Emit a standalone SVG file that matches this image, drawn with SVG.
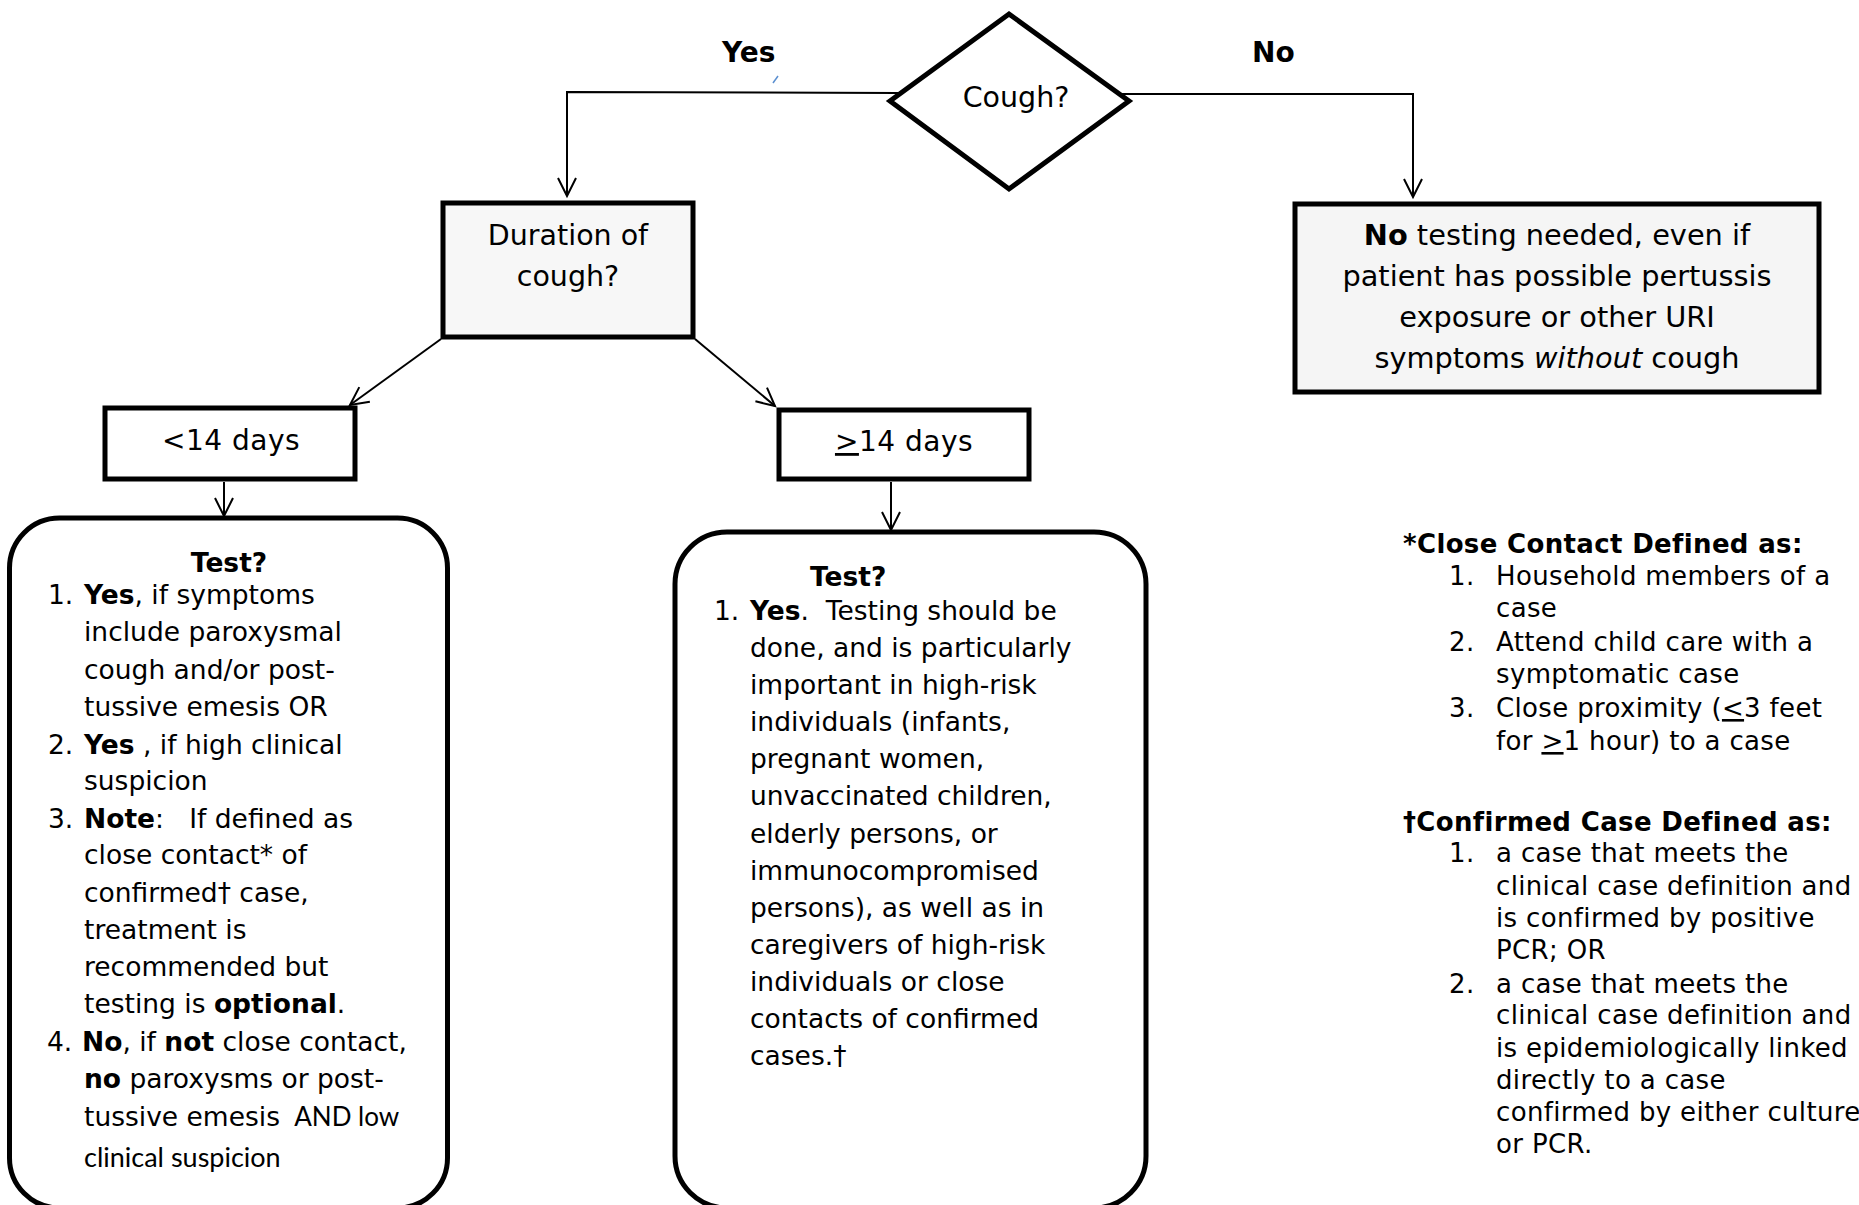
<svg xmlns="http://www.w3.org/2000/svg" width="1859" height="1205" viewBox="0 0 1859 1205">
<defs>
<marker id="ah" markerUnits="userSpaceOnUse" markerWidth="26" markerHeight="26" viewBox="-22 -13 26 26" refX="0" refY="0" orient="auto">
<path d="M-18,-9 L0,0 L-18,9" fill="none" stroke="#000" stroke-width="2"/>
</marker>
<style>
text{white-space:pre}
.t{font-family:"DejaVu Sans",Verdana,sans-serif;font-size:26.5px;fill:#000}
.r{font-family:"DejaVu Sans",Verdana,sans-serif;font-size:26px;letter-spacing:0.35px;fill:#000}
.h{font-family:"DejaVu Sans",Verdana,sans-serif;font-size:28px;fill:#000}
.w{font-size:28.8px}
.b{font-weight:bold}
.c{font-family:Lato,"Open Sans",sans-serif;font-size:27px}
.n{fill:#fff;stroke:#000;stroke-width:5}
.e{fill:none;stroke:#000;stroke-width:2}
</style>
</defs>
<rect width="1859" height="1205" fill="#fff"/>

<g id="connectors" class="e">
<path d="M898,93 L567,92 L567,196" marker-end="url(#ah)"/>
<path d="M1121,94 L1413,94 L1413,197" marker-end="url(#ah)"/>
<path d="M441,339 L350,405" marker-end="url(#ah)"/>
<path d="M695,339 L775,406" marker-end="url(#ah)"/>
<path d="M224,482 L224,516" marker-end="url(#ah)"/>
<path d="M891,482 L891,530" marker-end="url(#ah)"/>
<path d="M773,83 L778,76" stroke="#5b8fd0" stroke-width="1.5"/>
</g>

<g id="labels">
<text class="h b" x="722" y="62">Yes</text>
<text class="h b" x="1252" y="62">No</text>
</g>

<g id="cough">
<polygon class="n" points="1009,14 1129,101 1009,189 890,101"/>
<text class="h" x="1016" y="107" text-anchor="middle" style="font-size:28.5px">Cough?</text>
</g>

<g id="duration">
<rect class="n" x="443" y="203" width="250" height="134" style="fill:#f7f7f7"/>
<text class="h" x="568" y="245" text-anchor="middle" style="font-size:28.5px">Duration of</text>
<text class="h" x="568" y="286" text-anchor="middle" style="font-size:28.5px">cough?</text>
</g>

<g id="no-testing">
<rect class="n" x="1295" y="204" width="524" height="188" style="fill:#f5f5f5"/>
<text class="h w" x="1557" y="245" text-anchor="middle"><tspan class="b">No</tspan> testing needed, even if</text>
<text class="h w" x="1557" y="286" text-anchor="middle">patient has possible pertussis</text>
<text class="h w" x="1557" y="327" text-anchor="middle">exposure or other URI</text>
<text class="h w" x="1557" y="368" text-anchor="middle">symptoms <tspan font-style="italic">without</tspan> cough</text>
</g>

<g id="lt14">
<rect class="n" x="105" y="408" width="250" height="71"/>
<text class="h" x="231" y="450" text-anchor="middle" style="letter-spacing:0.5px">&lt;14 days</text>
</g>

<g id="ge14">
<rect class="n" x="779" y="410" width="250" height="69"/>
<text class="h" x="904" y="451" text-anchor="middle" style="letter-spacing:0.5px"><tspan text-decoration="underline">&gt;</tspan>14 days</text>
</g>

<g id="test-lt14">
<rect class="n" x="9.5" y="518" width="438" height="690" rx="50"/>
<g class="t">
<text class="b" x="229" y="572" text-anchor="middle">Test?</text>
<text x="48" y="604">1.</text><text x="84" y="604"><tspan class="b">Yes</tspan>, if symptoms</text>
<text x="84" y="641">include paroxysmal</text>
<text x="84" y="679">cough and/or post-</text>
<text x="84" y="716">tussive emesis OR</text>
<text x="48" y="754">2.</text><text x="84" y="754"><tspan class="b">Yes</tspan> , if high clinical</text>
<text x="84" y="790">suspicion</text>
<text x="48" y="828">3.</text><text x="84" y="828"><tspan class="b">Note</tspan>:   If defined as</text>
<text x="84" y="864">close contact* of</text>
<text x="84" y="902">confirmed† case,</text>
<text x="84" y="939">treatment is</text>
<text x="84" y="976">recommended but</text>
<text x="84" y="1013">testing is <tspan class="b">optional</tspan>.</text>
<text x="47" y="1051">4.</text><text x="82" y="1051"><tspan class="b">No</tspan>, if <tspan class="b">not</tspan> close contact,</text>
<text x="84" y="1088"><tspan class="b">no</tspan> paroxysms or post-</text>
<text x="84" y="1126">tussive emesis <tspan class="c" style="font-size:26px"> AND low</tspan></text>
<text x="84" y="1167" class="c">clinical suspicion</text>
</g>
</g>

<g id="test-ge14">
<rect class="n" x="675" y="532" width="471" height="676" rx="52"/>
<g class="t">
<text class="b" x="810" y="586">Test?</text>
<text x="714" y="620">1.</text><text x="750" y="620"><tspan class="b">Yes</tspan>.  Testing should be</text>
<text x="750" y="657">done, and is particularly</text>
<text x="750" y="694">important in high-risk</text>
<text x="750" y="731">individuals (infants,</text>
<text x="750" y="768">pregnant women,</text>
<text x="750" y="805">unvaccinated children,</text>
<text x="750" y="843">elderly persons, or</text>
<text x="750" y="880">immunocompromised</text>
<text x="750" y="917">persons), as well as in</text>
<text x="750" y="954">caregivers of high-risk</text>
<text x="750" y="991">individuals or close</text>
<text x="750" y="1028">contacts of confirmed</text>
<text x="750" y="1065">cases.†</text>
</g>
</g>

<g id="close-contact" class="r">
<text class="b" x="1403" y="553">*Close Contact Defined as:</text>
<text x="1449" y="585">1.</text><text x="1496" y="585">Household members of a</text>
<text x="1496" y="617">case</text>
<text x="1449" y="651">2.</text><text x="1496" y="651">Attend child care with a</text>
<text x="1496" y="683">symptomatic case</text>
<text x="1449" y="717">3.</text><text x="1496" y="717">Close proximity (<tspan text-decoration="underline">&lt;</tspan>3 feet</text>
<text x="1496" y="750">for <tspan text-decoration="underline">&gt;</tspan>1 hour) to a case</text>
</g>

<g id="confirmed-case" class="r">
<text class="b" x="1403" y="831">†Confirmed Case Defined as:</text>
<text x="1449" y="862">1.</text><text x="1496" y="862">a case that meets the</text>
<text x="1496" y="895">clinical case definition and</text>
<text x="1496" y="927">is confirmed by positive</text>
<text x="1496" y="959">PCR; OR</text>
<text x="1449" y="993">2.</text><text x="1496" y="993">a case that meets the</text>
<text x="1496" y="1024">clinical case definition and</text>
<text x="1496" y="1057">is epidemiologically linked</text>
<text x="1496" y="1089">directly to a case</text>
<text x="1496" y="1121">confirmed by either culture</text>
<text x="1496" y="1153">or PCR.</text>
</g>
</svg>
